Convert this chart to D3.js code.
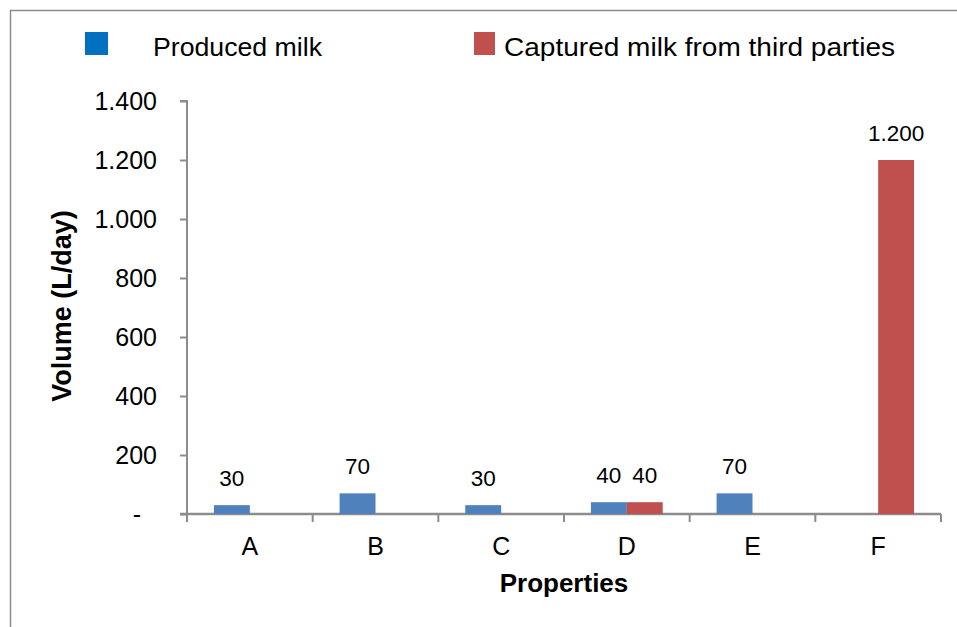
<!DOCTYPE html>
<html><head><meta charset="utf-8">
<script src="https://cdn.jsdelivr.net/npm/d3@7"></script>
<style>body{margin:0;background:#fff}svg{display:block}</style>
</head><body>
<script>
const categories = ["A","B","C","D","E","F"];
const producedMilk = [30, 70, 30, 40, 70, 0];
const capturedMilk = [0, 0, 0, 40, 0, 1200];
const yTicks = [0, 200, 400, 600, 800, 1000, 1200, 1400];
const seriesNames = ["Produced milk", "Captured milk from third  parties"];

const W = 957, H = 627;
const svg = d3.select("body").append("svg").attr("width", W).attr("height", H);

// frame
svg.append("path").attr("d", `M10.5,${H} V10.5 H${W}`).attr("fill","none").attr("stroke","#8c8c8c").attr("stroke-width",1.5);

const x0 = 187, x1 = 941, yTop = 101, yBot = 514;
const x = d3.scaleBand().domain(categories).range([x0, x1]).paddingInner(0).paddingOuter(0);
const y = d3.scaleLinear().domain([0, 1400]).range([yBot, yTop]);
const bw = x.bandwidth() / 3.5;

const fmt = v => v === 0 ? "-" : d3.format(",")(v).replace(/,/g, ".");
const FONT = "Liberation Sans, Arial, sans-serif";

// y axis
const yAxis = svg.append("g").attr("transform", `translate(${x0},0)`)
  .call(d3.axisLeft(y).tickValues(yTicks).tickSize(7).tickPadding(0).tickFormat(fmt));
yAxis.select(".domain").attr("stroke","#8c8c8c").attr("stroke-width",2).attr("d", `M-7,${yTop}H0V${yBot}`);
yAxis.selectAll(".tick line").attr("stroke","#8c8c8c").attr("stroke-width",2);
yAxis.selectAll(".tick text").attr("x", -30).attr("font-family", FONT).attr("font-size", 25).attr("fill","#000")
  .attr("dy", "0.35em");
yAxis.selectAll(".tick text").filter(d => d === 0).attr("x", -46);

// x axis
const xg = svg.append("g").attr("transform", `translate(0,${yBot})`);
xg.append("path").attr("d", `M${x0-7},0H${x1}`).attr("stroke","#8c8c8c").attr("stroke-width",2.5).attr("fill","none");
const bounds = categories.map(c => x(c)).concat([x1]);
xg.selectAll("line.tk").data(bounds).join("line").attr("class","tk")
  .attr("x1", d => d).attr("x2", d => d).attr("y1", 0).attr("y2", 8).attr("stroke","#8c8c8c").attr("stroke-width",2);
xg.selectAll("text.cat").data(categories).join("text").attr("class","cat")
  .attr("x", d => x(d) + x.bandwidth()/2).attr("y", 41).attr("text-anchor","middle")
  .attr("font-family", FONT).attr("font-size", 25).text(d => d);

// bars
const colors = ["#4F81BD", "#C0504D"];
const series = [producedMilk, capturedMilk];
series.forEach((vals, si) => {
  const g = svg.append("g");
  const data = categories.map((c, i) => ({c, v: vals[i]}));
  g.selectAll("rect").data(data.filter(d => d.v > 0)).join("rect")
    .attr("x", d => x(d.c) + x.bandwidth()/2 - bw + si*bw)
    .attr("y", d => y(d.v)).attr("width", bw).attr("height", d => yBot - y(d.v))
    .attr("fill", colors[si]);
  g.selectAll("text").data(data.filter(d => d.v > 0)).join("text")
    .attr("x", d => x(d.c) + x.bandwidth()/2 - bw/2 + si*bw)
    .attr("y", d => y(d.v) - 19).attr("text-anchor","middle")
    .attr("font-family", FONT).attr("font-size", 22.5)
    .text(d => fmt(d.v));
});

// axis titles
svg.append("text").attr("transform", `translate(71,306) rotate(-90)`).attr("text-anchor","middle")
  .attr("font-family", FONT).attr("font-weight","bold").attr("font-size", 27)
  .text("Volume (L/day)");
svg.append("text").attr("x", 564).attr("y", 592).attr("text-anchor","middle")
  .attr("font-family", FONT).attr("font-weight","bold").attr("font-size", 26)
  .text("Properties");

// legend
const legend = [
  {name: seriesNames[0], color: "#0070C0", sx: 85, sw: 23, tx: 153, tw: 169},
  {name: seriesNames[1], color: "#C0504D", sx: 474, sw: 21, tx: 504, tw: 391}
];
legend.forEach(l => {
  svg.append("rect").attr("x", l.sx).attr("y", 32).attr("width", l.sw).attr("height", 23).attr("fill", l.color);
  svg.append("text").attr("x", l.tx).attr("y", 56).attr("font-family","Liberation Sans Narrow, Liberation Sans, Arial, sans-serif")
    .attr("font-size", 26).attr("textLength", l.tw).attr("lengthAdjust","spacingAndGlyphs").text(l.name);
});
</script>
</body></html>
